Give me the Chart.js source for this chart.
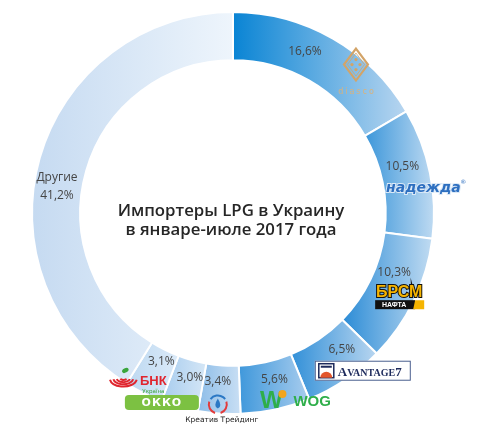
<!DOCTYPE html>
<html lang="ru">
<head>
<meta charset="utf-8">
<title>Импортеры LPG в Украину</title>
<script src="https://cdn.jsdelivr.net/npm/chart.js@4.4.1/dist/chart.umd.min.js"></script>
<style>
    html, body { margin: 0; padding: 0; background: #fff; }
    .wrap { width: 486px; height: 436px; }
</style>
</head>
<body>
<div class="wrap"><canvas id="lpgChart" width="486" height="436"></canvas></div>
<script>
// ======== 1. ДАННЫЕ ========
const importers = ['Diasco', 'Надежда', 'БРСМ-Нафта', 'Avantage 7', 'WOG', 'Креатив Трейдинг', 'ОККО', 'БНК-Украина', 'Другие'];
const shares = [16.6, 10.5, 10.3, 6.5, 5.6, 3.4, 3.0, 3.1, 41.2];
const titleLines = ['Импортеры LPG в Украину', 'в январе-июле 2017 года'];

// ======== 2. СТИЛИ ========
// градиент каждого сегмента: слева тёмный -> справа светлый
const darkShades = ['#0984d4', '#3d97da', '#2c8cd6', '#3290d8', '#3f98db', '#8dbde8', '#a7ccee', '#bcd8f1', '#c5daf1'];
const lightShades = ['#b9d6f0', '#c0dbf2', '#c2dcf2', '#b9d6f0', '#a9cdee', '#c9dff4', '#d4e6f6', '#dbeaf8', '#eef5fc'];
// сдвиг подписи относительно центра сегмента, px
const labelShift = [[-16, -8], [-4, -11], [2, -18], [10, -10], [4, -6], [-3, -8], [4, -6], [7, -10], [-6, 22]];
const CUTOUT = 0.76;

const fmt = v => v.toFixed(1).replace('.', ',') + '%';

function sliceGradient(context) {
    const chart = context.chart;
    const area = chart.chartArea;
    const i = context.dataIndex;
    if (!area) return lightShades[i];

    const cx = (area.left + area.right) / 2;
    const cy = (area.top + area.bottom) / 2;
    const outer = Math.min(area.width, area.height) / 2;
    const inner = outer * CUTOUT;
    const total = shares.reduce((a, b) => a + b, 0);

    let start = -Math.PI / 2;
    for (let k = 0; k < i; k++) start += shares[k] / total * Math.PI * 2;
    const end = start + shares[i] / total * Math.PI * 2;

    // горизонтальные границы сегмента
    let minX = Infinity, maxX = -Infinity;
    for (let s = 0; s <= 40; s++) {
        const a = start + (end - start) * s / 40;
        [outer, inner].forEach(r => {
            const x = cx + r * Math.cos(a);
            minX = Math.min(minX, x);
            maxX = Math.max(maxX, x);
        });
    }
    const g = chart.ctx.createLinearGradient(minX, 0, maxX, 0);
    g.addColorStop(0, darkShades[i]);
    g.addColorStop(1, lightShades[i]);
    return g;
}

// ======== 3. ЛОГОТИПЫ (упрощённо) ========
function diamond(ctx, x, y, w, h) {
    ctx.beginPath();
    ctx.moveTo(x, y - h); ctx.lineTo(x + w, y); ctx.lineTo(x, y + h); ctx.lineTo(x - w, y);
    ctx.closePath();
}

function drawDiasco(ctx, x, y) {
    const gold = '#d3a468';
    ctx.strokeStyle = gold; ctx.fillStyle = gold; ctx.lineWidth = 2.2;
    diamond(ctx, x, y, 12, 16); ctx.stroke();
    ctx.lineWidth = 0.8;
    diamond(ctx, x, y, 8.5, 11.5); ctx.stroke();
    [[0, -5], [-4, 0], [4, 0], [0, 5]].forEach(([dx, dy]) => {
        ctx.beginPath(); ctx.arc(x + dx, y + dy, 1.6, 0, Math.PI * 2); ctx.fill();
    });
    ctx.fillStyle = '#d9b27e';
    ctx.font = '8px "DejaVu Sans"';
    ctx.letterSpacing = '2px';
    ctx.textAlign = 'center'; ctx.textBaseline = 'middle';
    ctx.fillText('diasco', x + 1, y + 27);
    ctx.letterSpacing = '0px';
}

function drawNadezhda(ctx, x, y) {
    ctx.font = 'italic bold 14px "DejaVu Sans"';
    ctx.textAlign = 'center'; ctx.textBaseline = 'middle';
    ctx.lineWidth = 2; ctx.strokeStyle = '#dbe9f7';
    ctx.strokeText('надежда', x, y);
    ctx.fillStyle = '#2d6fc0';
    ctx.fillText('надежда', x, y);
    ctx.font = '6px "DejaVu Sans"';
    ctx.fillText('®', x + 40, y - 6);
}

function drawBrsm(ctx, x, y) {
    ctx.textAlign = 'center'; ctx.textBaseline = 'middle';
    ctx.font = 'bold 16px "Liberation Sans"';
    ctx.lineWidth = 2; ctx.strokeStyle = '#111';
    ctx.strokeText('БРСМ', x, y - 5);
    ctx.fillStyle = '#f5b400';
    ctx.fillText('БРСМ', x, y - 5);
    ctx.fillStyle = '#111';
    ctx.fillRect(x - 24, y + 3, 40, 9);
    ctx.fillStyle = '#f5b400';
    ctx.beginPath();
    ctx.moveTo(x + 16, y + 3); ctx.lineTo(x + 25, y + 3); ctx.lineTo(x + 25, y + 12); ctx.lineTo(x + 14, y + 12);
    ctx.closePath(); ctx.fill();
    ctx.fillStyle = '#fff';
    ctx.font = 'bold 7px "Liberation Sans"';
    ctx.fillText('НАФТА', x - 5, y + 8);
}

function drawAvantage(ctx, x, y) {
    const navy = '#1d2a5c';
    ctx.fillStyle = '#fff'; ctx.strokeStyle = '#4a5f8f'; ctx.lineWidth = 1;
    ctx.fillRect(x - 48, y - 10, 96, 20);
    ctx.strokeRect(x - 47.5, y - 9.5, 95, 19);
    // значок
    ctx.strokeStyle = navy; ctx.lineWidth = 1.5;
    ctx.strokeRect(x - 44, y - 7, 15, 14);
    ctx.fillStyle = '#e2562c';
    ctx.beginPath(); ctx.arc(x - 36.5, y + 7, 6, Math.PI, 0); ctx.fill();
    ctx.fillStyle = navy;
    ctx.fillRect(x - 42, y - 5, 11, 2);
    ctx.textBaseline = 'alphabetic'; ctx.textAlign = 'left';
    let cx = x - 25;
    ctx.font = 'bold 13px "Liberation Serif"';
    ctx.fillText('A', cx, y + 5); cx += ctx.measureText('A').width;
    ctx.font = 'bold 10px "Liberation Serif"';
    ctx.fillText('VANTAGE', cx, y + 5); cx += ctx.measureText('VANTAGE').width;
    ctx.font = 'bold 13px "Liberation Serif"';
    ctx.fillText('7', cx, y + 5);
}

function drawWog(ctx, x, y) {
    const green = '#2fae4a';
    ctx.fillStyle = green;
    ctx.font = 'bold 24px "Liberation Sans"';
    ctx.textAlign = 'center'; ctx.textBaseline = 'middle';
    ctx.fillText('W', x, y + 1);
    ctx.fillStyle = '#f3a51d';
    ctx.beginPath(); ctx.arc(x + 11, y - 6, 4, 0, Math.PI * 2); ctx.fill();
    ctx.fillStyle = green;
    ctx.font = 'bold 15px "Liberation Sans"';
    ctx.textAlign = 'left';
    ctx.fillText('WOG', x + 22, y + 2);
}

function drawKreativ(ctx, x, y) {
    ctx.lineWidth = 2;
    ctx.strokeStyle = '#e23b3b';
    ctx.beginPath(); ctx.arc(x, y - 2, 9, Math.PI * 0.6, Math.PI * 1.1); ctx.stroke();
    ctx.beginPath(); ctx.arc(x, y - 2, 9, Math.PI * 1.9, Math.PI * 0.4); ctx.stroke();
    ctx.strokeStyle = '#2b78c5';
    ctx.beginPath(); ctx.arc(x, y - 2, 9, Math.PI * 1.2, Math.PI * 1.8); ctx.stroke();
    ctx.fillStyle = '#2b78c5';
    ctx.beginPath();
    ctx.moveTo(x, y - 8); ctx.quadraticCurveTo(x + 5, y, x, y + 2); ctx.quadraticCurveTo(x - 5, y, x, y - 8);
    ctx.fill();
    ctx.fillStyle = '#222';
    ctx.font = '7.5px "DejaVu Sans"';
    ctx.textAlign = 'center'; ctx.textBaseline = 'middle';
    ctx.fillText('Креатив Трейдинг', x + 4, y + 14);
}

function drawOkko(ctx, x, y) {
    ctx.fillStyle = '#7cc142';
    ctx.beginPath();
    ctx.roundRect(x - 37, y - 7.5, 74, 15, 4);
    ctx.fill();
    ctx.fillStyle = '#fff';
    ctx.font = 'bold 11px "DejaVu Sans"';
    ctx.letterSpacing = '1px';
    ctx.textAlign = 'center'; ctx.textBaseline = 'middle';
    ctx.fillText('ОККО', x, y + 0.5);
    ctx.letterSpacing = '0px';
}

function drawBnk(ctx, x, y) {
    const red = '#e0262f';
    ctx.strokeStyle = red; ctx.lineWidth = 2;
    for (let k = 0; k < 4; k++) {
        ctx.beginPath();
        ctx.ellipse(x - 30, y - 3, 3 + k * 3.5, 1.5 + k * 2.2, 0, Math.PI * 0.05, Math.PI * 0.95);
        ctx.stroke();
    }
    ctx.fillStyle = '#3aa53c';
    ctx.beginPath(); ctx.ellipse(x - 28, y - 11, 3.5, 2.2, -0.5, 0, Math.PI * 2); ctx.fill();
    ctx.fillStyle = red;
    ctx.font = 'bold 13px "Liberation Sans"';
    ctx.textAlign = 'center'; ctx.textBaseline = 'middle';
    ctx.fillText('БНК', x, y);
    ctx.fillStyle = '#3aa53c';
    ctx.font = '5.5px "DejaVu Sans"';
    ctx.fillText('Україна', x, y + 10);
}

// логотип и его смещение от центра сегмента
const logos = [
    [drawDiasco, 35, 5],
    [drawNadezhda, 17, 11],
    [drawBrsm, 7, 7],
    [drawAvantage, 31, 11],
    [drawWog, 1, 14],
    [drawKreativ, -3, 17],
    [drawOkko, -24, 19],
    [drawBnk, -1, 10],
    null
];

// ======== 4. ПЛАГИНЫ ========
const centerTitle = {
    id: 'centerTitle',
    afterDraw(chart) {
        const { ctx, chartArea } = chart;
        const cx = (chartArea.left + chartArea.right) / 2;
        const cy = (chartArea.top + chartArea.bottom) / 2;
        ctx.save();
        ctx.fillStyle = '#262626';
        ctx.font = '600 16.8px "Open Sans"';
        ctx.textAlign = 'center'; ctx.textBaseline = 'middle';
        ctx.fillText(titleLines[0], cx - 2, cy - 2);
        ctx.fillText(titleLines[1], cx - 2, cy + 17);
        ctx.restore();
    }
};

const sliceLabels = {
    id: 'sliceLabels',
    afterDatasetsDraw(chart) {
        const { ctx } = chart;
        const meta = chart.getDatasetMeta(0);
        meta.data.forEach((arc, i) => {
            const c = arc.getCenterPoint();
            const lx = c.x + labelShift[i][0];
            const ly = c.y + labelShift[i][1];
            ctx.save();
            ctx.fillStyle = '#454545';
            ctx.font = '12px "Open Sans"';
            ctx.textAlign = 'center'; ctx.textBaseline = 'middle';
            if (i === shares.length - 1) {
                ctx.fillText(importers[i], lx, ly - 9);
                ctx.fillText(fmt(shares[i]), lx, ly + 9);
            } else {
                ctx.fillText(fmt(shares[i]), lx, ly);
            }
            ctx.restore();

            const logo = logos[i];
            if (logo) {
                ctx.save();
                logo[0](ctx, c.x + logo[1], c.y + logo[2]);
                ctx.restore();
            }
        });
    }
};

// ======== 5. ГРАФИК ========
new Chart(document.getElementById('lpgChart'), {
    type: 'doughnut',
    data: {
        labels: importers,
        datasets: [{
            data: shares,
            backgroundColor: sliceGradient,
            borderColor: '#ffffff',
            borderWidth: 2
        }]
    },
    options: {
        responsive: false,
        animation: false,
        devicePixelRatio: 1,
        cutout: (CUTOUT * 100) + '%',
        layout: { padding: { top: 11, bottom: 21, left: 31, right: 51 } },
        plugins: { legend: { display: false }, tooltip: { enabled: false } }
    },
    plugins: [centerTitle, sliceLabels]
});
</script>
</body>
</html>
